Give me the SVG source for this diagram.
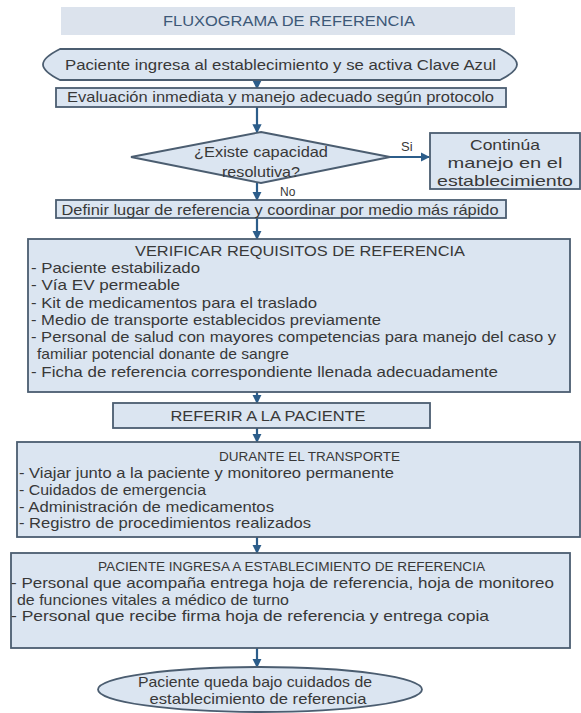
<svg xmlns="http://www.w3.org/2000/svg" width="581" height="713" viewBox="0 0 581 713">
  <style>
    .box { fill: #dbe5f1; stroke: #4b5d70; stroke-width: 1.8; }
    .t { font-family: "Liberation Sans", Arial, sans-serif; font-size: 15px; fill: #383838; }
    .c { text-anchor: middle; }
    .s { font-size: 12px; }
    .lbl { font-family: "Liberation Sans", Arial, sans-serif; font-size: 12px; fill: #383838; }
    .conn { stroke: #2c5d8a; stroke-width: 2.2; fill: none; }
  </style>
  <defs>
    <marker id="ah" viewBox="0 0 10 10" refX="9" refY="5" markerWidth="4.2" markerHeight="4.2" orient="auto" markerUnits="strokeWidth">
      <path d="M0,0 L10,5 L0,10 Z" fill="#2c5d8a"/>
    </marker>
  </defs>

  <rect width="581" height="713" fill="#ffffff"/>

  <!-- header band -->
  <g id="header">
    <rect x="61" y="7" width="454" height="28" fill="#dce3ed"/>
    <text class="t c" x="289" y="26" style="fill:#3d5878" textLength="252" lengthAdjust="spacingAndGlyphs">FLUXOGRAMA DE REFERENCIA</text>
  </g>

  <!-- connectors -->
  <g id="connectors">
    <line class="conn" x1="257" y1="80" x2="257" y2="88.5" marker-end="url(#ah)"/>
    <line class="conn" x1="257" y1="107" x2="257" y2="132.5" marker-end="url(#ah)"/>
    <line class="conn" x1="390" y1="157" x2="429" y2="157" marker-end="url(#ah)"/>
    <line class="conn" x1="257" y1="181" x2="257" y2="200" marker-end="url(#ah)"/>
    <line class="conn" x1="257" y1="218" x2="257" y2="239" marker-end="url(#ah)"/>
    <line class="conn" x1="257" y1="392" x2="257" y2="403" marker-end="url(#ah)"/>
    <line class="conn" x1="257" y1="428" x2="257" y2="442" marker-end="url(#ah)"/>
    <line class="conn" x1="257" y1="537" x2="257" y2="553" marker-end="url(#ah)"/>
    <line class="conn" x1="257" y1="648" x2="257" y2="667" marker-end="url(#ah)"/>
    <text class="lbl" x="401" y="151" style="font-size:13px">Si</text>
    <text class="lbl" x="280" y="196">No</text>
  </g>

  <g id="inicio">
    <path class="box" d="M60,49 H500 C510,54 517,60 517,64.5 C517,69 510,75 500,80 H60 C50,75 43,69 43,64.5 C43,60 50,54 60,49 Z"/>
    <text class="t c" x="280.5" y="70" textLength="431" lengthAdjust="spacingAndGlyphs">Paciente ingresa al establecimiento y se activa Clave Azul</text>
  </g>

  <g id="evaluacion">
    <rect class="box" x="56" y="88" width="450" height="19"/>
    <text class="t c" x="280.5" y="102" textLength="427" lengthAdjust="spacingAndGlyphs">Evaluación inmediata y manejo adecuado según protocolo</text>
  </g>

  <g id="decision">
    <polygon class="box" points="261,132 390,157 261,183 131,157"/>
    <text class="t c" x="261" y="157" textLength="134" lengthAdjust="spacingAndGlyphs">¿Existe capacidad</text>
    <text class="t c" x="261" y="177" textLength="78" lengthAdjust="spacingAndGlyphs">resolutiva?</text>
  </g>

  <g id="continua">
    <rect class="box" x="430" y="133" width="150" height="56"/>
    <text class="t c" x="505" y="150" textLength="70" lengthAdjust="spacingAndGlyphs">Continúa</text>
    <text class="t c" x="505" y="168" textLength="115" lengthAdjust="spacingAndGlyphs">manejo en el</text>
    <text class="t c" x="505" y="186" textLength="136" lengthAdjust="spacingAndGlyphs">establecimiento</text>
  </g>

  <g id="definir">
    <rect class="box" x="56" y="200" width="450" height="18"/>
    <text class="t c" x="280" y="214.5" textLength="437" lengthAdjust="spacingAndGlyphs">Definir lugar de referencia y coordinar por medio más rápido</text>
  </g>

  <g id="verificar">
    <rect class="box" x="28" y="239" width="542" height="153"/>
    <text class="t c" x="300" y="256" textLength="330" lengthAdjust="spacingAndGlyphs">VERIFICAR REQUISITOS DE REFERENCIA</text>
    <text class="t" x="31" y="273" textLength="169" lengthAdjust="spacingAndGlyphs">- Paciente estabilizado</text>
    <text class="t" x="31" y="290" textLength="149" lengthAdjust="spacingAndGlyphs">- Vía EV permeable</text>
    <text class="t" x="31" y="308" textLength="286" lengthAdjust="spacingAndGlyphs">- Kit de medicamentos para el traslado</text>
    <text class="t" x="31" y="325" textLength="350" lengthAdjust="spacingAndGlyphs">- Medio de transporte establecidos previamente</text>
    <text class="t" x="31" y="342" textLength="525" lengthAdjust="spacingAndGlyphs">- Personal de salud con mayores competencias para manejo del caso y</text>
    <text class="t" x="37" y="359" textLength="252" lengthAdjust="spacingAndGlyphs">familiar potencial donante de sangre</text>
    <text class="t" x="31" y="377" textLength="467" lengthAdjust="spacingAndGlyphs">- Ficha de referencia correspondiente llenada adecuadamente</text>
  </g>

  <g id="referir">
    <rect class="box" x="113" y="403" width="317" height="25"/>
    <text class="t c" x="268" y="421" textLength="195" lengthAdjust="spacingAndGlyphs">REFERIR A LA PACIENTE</text>
  </g>

  <g id="transporte">
    <rect class="box" x="17" y="442" width="563" height="95"/>
    <text class="t c s" x="309.5" y="461" textLength="181" lengthAdjust="spacingAndGlyphs">DURANTE EL TRANSPORTE</text>
    <text class="t" x="19" y="478" textLength="375" lengthAdjust="spacingAndGlyphs">- Viajar junto a la paciente y monitoreo permanente</text>
    <text class="t" x="19" y="495" textLength="187" lengthAdjust="spacingAndGlyphs">- Cuidados de emergencia</text>
    <text class="t" x="19" y="512" textLength="255" lengthAdjust="spacingAndGlyphs">- Administración de medicamentos</text>
    <text class="t" x="19" y="528" textLength="292" lengthAdjust="spacingAndGlyphs">- Registro de procedimientos realizados</text>
  </g>

  <g id="ingreso">
    <rect class="box" x="11" y="553" width="559" height="95"/>
    <text class="t c s" x="291.5" y="571" textLength="387" lengthAdjust="spacingAndGlyphs">PACIENTE INGRESA A ESTABLECIMIENTO DE REFERENCIA</text>
    <text class="t" x="11" y="588" textLength="543" lengthAdjust="spacingAndGlyphs">- Personal que acompaña entrega hoja de referencia, hoja de monitoreo</text>
    <text class="t" x="17" y="605" textLength="272" lengthAdjust="spacingAndGlyphs">de funciones vitales a médico de turno</text>
    <text class="t" x="11" y="621" textLength="478" lengthAdjust="spacingAndGlyphs">- Personal que recibe firma hoja de referencia y entrega copia</text>
  </g>

  <g id="fin">
    <ellipse class="box" cx="260" cy="689.5" rx="162" ry="22.5"/>
    <text class="t c" x="255" y="687" textLength="234" lengthAdjust="spacingAndGlyphs">Paciente queda bajo cuidados de</text>
    <text class="t c" x="258" y="704" textLength="217" lengthAdjust="spacingAndGlyphs">establecimiento de referencia</text>
  </g>
</svg>
